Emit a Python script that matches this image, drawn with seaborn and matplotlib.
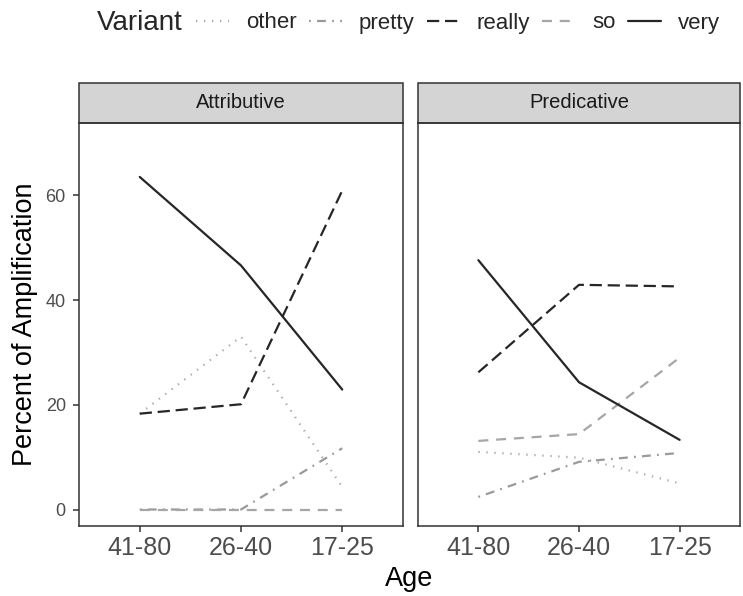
import matplotlib
matplotlib.use("Agg")
import matplotlib.pyplot as plt
from matplotlib.lines import Line2D
from matplotlib.patches import Rectangle
import pandas as pd
import seaborn as sns

# Data: percent of amplification by age group, variant and syntactic function
ages = ["41-80", "26-40", "17-25"]
variants = ["other", "pretty", "really", "so", "very"]
functions = ["Attributive", "Predicative"]

attr_other = [18.3, 33.0, 4.3]
attr_pretty = [0.0, 0.0, 11.7]
attr_really = [18.3, 20.1, 60.9]
attr_so = [0.0, 0.0, 0.0]
attr_very = [63.5, 46.6, 22.9]

pred_other = [11.0, 9.9, 5.0]
pred_pretty = [2.4, 9.1, 10.8]
pred_really = [26.2, 42.9, 42.6]
pred_so = [13.1, 14.4, 29.0]
pred_very = [47.6, 24.3, 13.3]

values = {
    "Attributive": [attr_other, attr_pretty, attr_really, attr_so, attr_very],
    "Predicative": [pred_other, pred_pretty, pred_really, pred_so, pred_very],
}

rows = []
for fn in functions:
    for var, series in zip(variants, values[fn]):
        for age, v in zip(ages, series):
            rows.append({"Function": fn, "Variant": var, "Age": age, "Percent": v})
df = pd.DataFrame(rows)

palette = {"other": "#a9a9a9", "pretty": "#9a9a9a", "really": "#262626",
           "so": "#a6a6a6", "very": "#262626"}
dashes = {"other": (0.6, 3.0), "pretty": (0.8, 2.8, 4.0, 2.8), "really": (5.5, 2.6),
          "so": (4.5, 3.5), "very": ""}

sns.set_theme(style="white")
plt.rcParams["font.family"] = ["Liberation Sans", "DejaVu Sans"]

fig = plt.figure(figsize=(7.43, 5.96), dpi=100)
W, H = 743, 596
panel_top, panel_bot = 123, 526
strip_top = 83
lefts = [(79, 403), (418, 740)]

age_pos = {a: i for i, a in enumerate(ages)}
df["x"] = df["Age"].map(age_pos)

for i, (fn, (x0, x1)) in enumerate(zip(functions, lefts)):
    ax = fig.add_axes([x0 / W, 1 - panel_bot / H, (x1 - x0) / W, (panel_bot - panel_top) / H])
    sub = df[df["Function"] == fn]
    sns.lineplot(data=sub, x="x", y="Percent", hue="Variant", style="Variant",
                 hue_order=variants, style_order=variants, palette=palette,
                 dashes=dashes, linewidth=1.6, legend=False, ax=ax)
    ax.set_xlim(-0.6, 2.6)
    ax.set_ylim(-3.15, 73.8)
    ax.set_xticks(range(len(ages)))
    ax.set_xticklabels(ages)
    ax.set_yticks([0, 20, 40, 60])
    ax.grid(False)
    for s in ax.spines.values():
        s.set_color("#333333")
        s.set_linewidth(1.1)
    ax.tick_params(axis="both", which="both", length=4.5, width=1.1, color="#333333",
                   labelcolor="#4d4d4d", bottom=True, left=(i == 0))
    ax.tick_params(axis="x", labelsize=18, pad=3)
    ax.tick_params(axis="y", labelsize=13, pad=5)
    if i > 0:
        ax.set_yticklabels([])
    ax.set_xlabel("")
    ax.set_ylabel("")
    # facet strip
    sh = (panel_top - strip_top) / (panel_bot - panel_top)
    ax.add_patch(Rectangle((0, 1), 1, sh, transform=ax.transAxes, clip_on=False,
                           facecolor="#d4d4d4", edgecolor="#333333", linewidth=1.1))
    ax.text(0.5, 1 + sh / 2, fn, transform=ax.transAxes, ha="center", va="center",
            fontsize=14.5, color="#1a1a1a")

fig.text(25 / W, 1 - ((panel_top + panel_bot) / 2) / H, "Percent of Amplification",
         rotation=90, ha="center", va="center", fontsize=19.5, color="black")
fig.text((79 + 740) / 2 / W, 1 - 579 / H, "Age", ha="center", va="center",
         fontsize=19.5, color="black")

# legend across the top
handles = []
for v in variants:
    h = Line2D([0], [0], color=palette[v], linewidth=1.6)
    if dashes[v] != "":
        h.set_dashes(dashes[v])
    handles.append(h)
fig.text(97 / W, 1 - 23 / H, "Variant", ha="left", va="center", fontsize=20)
fig.legend(handles, variants, loc="center left", bbox_to_anchor=(196 / W, 1 - 23 / H),
           ncol=5, frameon=False, fontsize=16, handlelength=1.5, handletextpad=0.75,
           columnspacing=0.55, borderaxespad=0, borderpad=0)

fig.savefig("out.png", dpi=100)
